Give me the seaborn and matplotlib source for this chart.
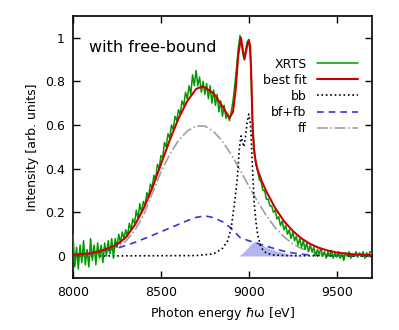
import numpy as np
import matplotlib
matplotlib.use("Agg")
import matplotlib.pyplot as plt
import seaborn as sns

# measured spectrum, 10 eV steps from 8000 to 9700 eV
xrts_e = np.arange(8000, 9701, 10)
xrts = [
    0.10, -0.05, 0.04, -0.06, 0.05, -0.03, 0.07, -0.04, 0.03, -0.05,   # 8000
    0.08, -0.02, 0.05, -0.04, 0.06, -0.01, 0.05, -0.03, 0.06, 0.00,    # 8100
    0.07, 0.01, 0.08, -0.01, 0.08, 0.04, 0.10, 0.06, 0.11, 0.08,       # 8200
    0.12, 0.09, 0.15, 0.12, 0.17, 0.15, 0.21, 0.17, 0.24, 0.20,        # 8300
    0.25, 0.23, 0.29, 0.27, 0.33, 0.31, 0.37, 0.35, 0.42, 0.40,        # 8400
    0.46, 0.45, 0.52, 0.50, 0.56, 0.54, 0.60, 0.58, 0.64, 0.62,        # 8500
    0.67, 0.65, 0.71, 0.69, 0.75, 0.72, 0.78, 0.74, 0.83, 0.78,        # 8600
    0.85, 0.78, 0.82, 0.75, 0.80, 0.74, 0.79, 0.72, 0.78, 0.70,        # 8700
    0.76, 0.69, 0.74, 0.66, 0.71, 0.64, 0.69, 0.63, 0.65, 0.62,        # 8800
    0.66, 0.71, 0.78, 0.86, 0.95, 1.01, 0.96, 0.91, 0.93, 0.98,        # 8900
    0.99, 0.90, 0.63, 0.50, 0.42, 0.39, 0.35, 0.34, 0.30, 0.30,        # 9000
    0.26, 0.26, 0.23, 0.23, 0.20, 0.21, 0.17, 0.18, 0.14, 0.16,        # 9100
    0.12, 0.14, 0.10, 0.12, 0.08, 0.11, 0.07, 0.09, 0.05, 0.08,        # 9200
    0.04, 0.07, 0.03, 0.06, 0.02, 0.05, 0.02, 0.04, 0.00, 0.03,        # 9300
    0.01, 0.035, 0.00, 0.02, -0.01, 0.02, 0.00, 0.025, -0.01, 0.015,   # 9400
    -0.005, 0.02, -0.01, 0.01, -0.02, 0.015, 0.00, 0.02, -0.01, 0.01,  # 9500
    0.00, 0.02, -0.005, 0.015, 0.00, 0.02, -0.01, 0.015, 0.00, 0.02,   # 9600
    0.01,                                                              # 9700
]

# best fit
fit_e = [8000, 8050, 8100, 8150, 8200, 8250, 8300, 8350, 8400, 8450, 8500,
         8550, 8600, 8650, 8700, 8730, 8750, 8800, 8850, 8890, 8910, 8925,
         8940, 8955, 8965, 8975, 8990, 9000, 9008, 9015, 9022, 9030, 9040,
         9050, 9075, 9100, 9150, 9200, 9250, 9300, 9350, 9400, 9450, 9500,
         9600, 9700]
fit = [0.006, 0.009, 0.013, 0.022, 0.035, 0.052, 0.085, 0.140, 0.215, 0.310,
       0.420, 0.530, 0.630, 0.710, 0.765, 0.775, 0.772, 0.745, 0.686, 0.632,
       0.660, 0.760, 0.920, 1.000, 0.950, 0.900, 0.960, 0.990, 0.960, 0.800,
       0.580, 0.480, 0.430, 0.395, 0.340, 0.295, 0.220, 0.160, 0.115, 0.080,
       0.055, 0.037, 0.025, 0.016, 0.007, 0.004]

# bound-bound
bb_e = [8000, 8700, 8800, 8850, 8880, 8900, 8920, 8935, 8947, 8956, 8965,
        8972, 8980, 8990, 9000, 9010, 9020, 9030, 9040, 9050, 9065, 9080,
        9100, 9140, 9200, 9700]
bb = [0.0, 0.002, 0.010, 0.035, 0.070, 0.130, 0.250, 0.360, 0.500, 0.550,
      0.520, 0.500, 0.540, 0.610, 0.650, 0.600, 0.420, 0.250, 0.160, 0.100,
      0.050, 0.028, 0.013, 0.005, 0.002, 0.0]

# smooth components on a 50 eV grid
comp_e = [8000, 8050, 8100, 8150, 8200, 8250, 8300, 8350, 8400, 8450, 8500,
          8550, 8600, 8650, 8700, 8750, 8800, 8850, 8900, 8950, 9000, 9050,
          9100, 9150, 9200, 9250, 9300, 9350, 9400, 9450, 9500, 9600, 9700]
bf_fb = [0.0, 0.005, 0.011, 0.018, 0.026, 0.036, 0.048, 0.062, 0.078, 0.094,
         0.111, 0.128, 0.145, 0.162, 0.177, 0.184, 0.176, 0.157, 0.127, 0.085,
         0.070, 0.058, 0.045, 0.033, 0.022, 0.014, 0.008, 0.005, 0.003, 0.002,
         0.001, 0.0, 0.0]
ff = [0.002, 0.004, 0.008, 0.015, 0.025, 0.042, 0.068, 0.115, 0.185, 0.285,
      0.385, 0.465, 0.530, 0.572, 0.596, 0.595, 0.570, 0.525, 0.465, 0.395,
      0.320, 0.250, 0.185, 0.130, 0.088, 0.056, 0.034, 0.020, 0.011, 0.006,
      0.003, 0.001, 0.0]

# shaded free-bound piece
shade_e = [8940, 8960, 8990, 9020, 9035, 9060, 9100, 9150, 9200, 9250, 9300, 9350]
shade = [0.0, 0.010, 0.035, 0.060, 0.068, 0.056, 0.040, 0.025, 0.014, 0.007, 0.002, 0.0]

sns.set_style("ticks")
plt.rcParams["font.family"] = ["DejaVu Sans"]
plt.rcParams["text.color"] = "black"
plt.rcParams["axes.labelcolor"] = "black"
plt.rcParams["xtick.color"] = "black"
plt.rcParams["ytick.color"] = "black"
plt.rcParams["xtick.direction"] = "in"
plt.rcParams["ytick.direction"] = "in"

fig = plt.figure(figsize=(3.99, 3.30), dpi=100)
ax = fig.add_axes([0.183, 0.158, 0.749, 0.794])

ax.fill_between(shade_e, 0, shade, color="#b4b4f0", lw=0, zorder=1)
sns.lineplot(x=comp_e, y=ff, ax=ax, color="#a0a0a0", lw=1.2, ls="-.",
             label="ff", estimator=None, zorder=2)
sns.lineplot(x=comp_e, y=bf_fb, ax=ax, color="#3333dd", lw=1.2,
             dashes=False, label="bf+fb", estimator=None, zorder=3)
sns.lineplot(x=bb_e, y=bb, ax=ax, color="black", lw=1.2, ls=":",
             label="bb", estimator=None, zorder=4)
sns.lineplot(x=xrts_e, y=xrts, ax=ax, color="#009a00", lw=1.1,
             label="XRTS", estimator=None, zorder=5)
sns.lineplot(x=fit_e, y=fit, ax=ax, color="#cc0000", lw=1.5,
             label="best fit", estimator=None, zorder=6)
ax.lines[1].set_dashes([4, 3])

ax.set_xlim(8000, 9700)
ax.set_ylim(-0.1, 1.1)
ax.set_xticks([8000, 8500, 9000, 9500])
ax.set_yticks([0, 0.2, 0.4, 0.6, 0.8, 1.0])
ax.set_yticklabels(["0", "0.2", "0.4", "0.6", "0.8", "1"])
ax.tick_params(which="both", top=True, right=True, length=5, width=1,
               labelsize=9, color="black", labelcolor="black", pad=6)
for s in ax.spines.values():
    s.set_linewidth(1.2)
    s.set_color("black")

ax.set_xlabel("Photon energy $\\hbar$ω [eV]", fontsize=9)
ax.set_ylabel("Intensity [arb. units]", fontsize=9)

ax.text(0.054, 0.878, "with free-bound", transform=ax.transAxes,
        fontsize=11.5, va="center", ha="left")

h, l = ax.get_legend_handles_labels()
order = [l.index(k) for k in ["XRTS", "best fit", "bb", "bf+fb", "ff"]]
ax.legend([h[i] for i in order], [l[i] for i in order], loc="upper right",
          bbox_to_anchor=(0.97, 0.86), frameon=False, markerfirst=False,
          fontsize=9, handlelength=3.3, handletextpad=0.8, labelspacing=0.25,
          borderaxespad=0)

fig.savefig("out.png", dpi=100)
